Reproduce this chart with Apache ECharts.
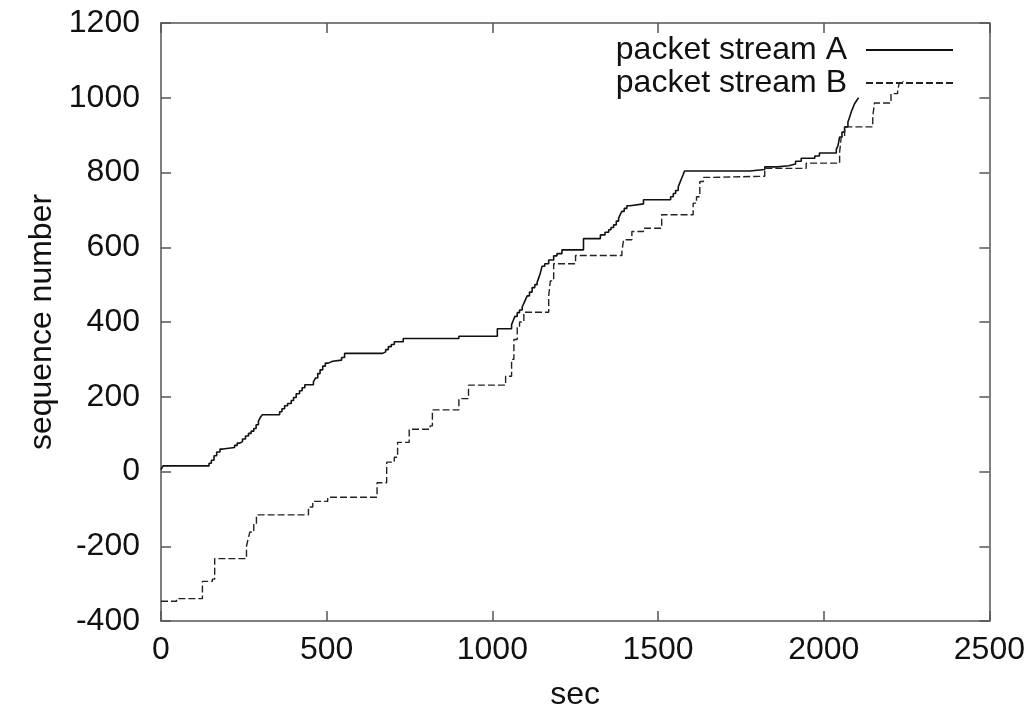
<!DOCTYPE html>
<html lang="en">
<head>
<meta charset="UTF-8">
<title>packet streams</title>
<script src="https://cdn.jsdelivr.net/npm/echarts@6.0.0/dist/echarts.min.js"></script>
<style>
  html, body { margin: 0; padding: 0; background: #fff; }
  #chart { width: 1028px; height: 717px; }
</style>
</head>
<body>
<div id="chart"></div>
<script>
// stream A: start of each step (sec) and its sequence number
var aSec = [0, 6, 145, 152, 160, 168, 178, 187, 222, 230, 238, 246, 255, 264, 272, 280, 287, 294, 300, 306,
  358, 365, 373, 382, 393, 400, 408, 418, 426, 434, 460, 466, 473, 480, 488, 496, 505, 518, 545, 554,
  669, 678, 686, 695, 704, 731, 899, 1015, 1058, 1063, 1068, 1075, 1082, 1090, 1096, 1101, 1105, 1112,
  1120, 1128, 1135, 1140, 1145, 1150, 1158, 1170, 1185, 1195, 1210, 1275, 1326, 1340, 1351, 1358, 1366,
  1374, 1381, 1386, 1391, 1398, 1406, 1416, 1456, 1538, 1546, 1553, 1561, 1566, 1571, 1576, 1580, 1777,
  1822, 1860, 1894, 1915, 1932, 1973, 1987, 2038, 2043, 2048, 2055, 2063, 2073, 2078, 2083, 2088, 2093,
  2099, 2105];
var aSeq = [5, 15, 22, 30, 42, 52, 60, 64, 70, 76, 80, 87, 95, 102, 108, 115, 125, 135, 145, 152,
  160, 168, 176, 182, 190, 198, 208, 216, 224, 232, 240, 250, 262, 272, 282, 290, 295, 298, 305, 316,
  320, 326, 334, 340, 347, 356, 362, 382, 393, 404, 415, 425, 432, 440, 452, 462, 470, 480,
  492, 500, 506, 518, 532, 549, 556, 566, 577, 583, 593, 623, 633, 640, 647, 653, 660,
  670, 678, 688, 696, 704, 711, 716, 727, 735, 744, 752, 762, 773, 784, 795, 804, 808,
  815, 818, 823, 830, 838, 844, 852, 862, 872, 895, 908, 922, 935, 948, 962, 973, 984,
  992, 1000];

// stream B
var bSec = [0, 47, 125, 155, 162, 258, 263, 268, 280, 288, 445, 458, 503, 652, 681, 704, 714, 749, 812,
  819, 899, 928, 1040, 1058, 1065, 1075, 1082, 1095, 1170, 1175, 1185, 1251, 1391, 1396, 1421, 1456,
  1511, 1606, 1616, 1626, 1637, 1662, 1822, 1947, 2048, 2053, 2063, 2148, 2153, 2203, 2223, 2228, 2240];
var bSeq = [-347, -340, -294, -288, -233, -200, -180, -162, -140, -116, -95, -80, -69, -30, 25, 38, 78, 113, 122,
  165, 195, 231, 255, 300, 353, 385, 400, 426, 470, 510, 556, 578, 589, 620, 642, 651,
  687, 718, 735, 776, 787, 790, 811, 825, 855, 895, 922, 949, 986, 1011, 1020, 1039, 1045];

var seriesNames = ['packet stream A', 'packet stream B'];

function pairs(xs, ys) {
  return xs.map(function (x, i) { return [x, ys[i]]; });
}

var font = 'Liberation Sans, Arial, sans-serif';
var ink = '#111';
var frame = '#555';

function plain(v) { return String(v); }

function xAx(pos, labels) {
  return {
    type: 'value', position: pos, min: 0, max: 2500, interval: 500,
    name: labels ? 'sec' : '', nameLocation: 'middle', nameGap: 58,
    nameTextStyle: { fontFamily: font, fontSize: 32, color: ink },
    axisLine: { show: true, onZero: false, lineStyle: { color: frame, width: 1.5 } },
    axisTick: { show: true, inside: true, length: 10, lineStyle: { color: frame, width: 1.5 } },
    axisLabel: { show: labels, margin: 13, fontFamily: font, fontSize: 32, color: ink, formatter: plain },
    splitLine: { show: false }
  };
}
function yAx(pos, labels) {
  return {
    type: 'value', position: pos, min: -400, max: 1200, interval: 200,
    name: labels ? 'sequence number' : '', nameLocation: 'middle', nameGap: 98,
    nameTextStyle: { fontFamily: font, fontSize: 32, color: ink },
    axisLine: { show: true, onZero: false, lineStyle: { color: frame, width: 1.5 } },
    axisTick: { show: true, inside: true, length: 10, lineStyle: { color: frame, width: 1.5 } },
    axisLabel: { show: labels, margin: 21, fontFamily: font, fontSize: 32, color: ink, formatter: plain },
    splitLine: { show: false }
  };
}

var chart = echarts.init(document.getElementById('chart'));
chart.setOption({
  animation: false,
  backgroundColor: '#fff',
  grid: { left: 161, right: 37, top: 23, bottom: 96 },
  legend: {
    orient: 'vertical', right: 69, top: 29, align: 'right',
    itemWidth: 87, itemHeight: 14, itemGap: 1,
    itemStyle: { opacity: 0 },
    textStyle: { fontFamily: font, fontSize: 32, color: ink, padding: [0, 14, 0, 0] },
    data: seriesNames
  },
  xAxis: [xAx('bottom', true), xAx('top', false)],
  yAxis: [yAx('left', true), yAx('right', false)],
  series: [
    {
      name: seriesNames[0], type: 'line', step: 'end', symbol: 'none',
      lineStyle: { color: ink, width: 1.6 },
      itemStyle: { color: ink },
      data: pairs(aSec, aSeq)
    },
    {
      name: seriesNames[1], type: 'line', step: 'end', symbol: 'none',
      lineStyle: { color: '#222', width: 1.4, type: [7, 3] },
      itemStyle: { color: '#222' },
      data: pairs(bSec, bSeq)
    }
  ]
});
</script>
</body>
</html>
